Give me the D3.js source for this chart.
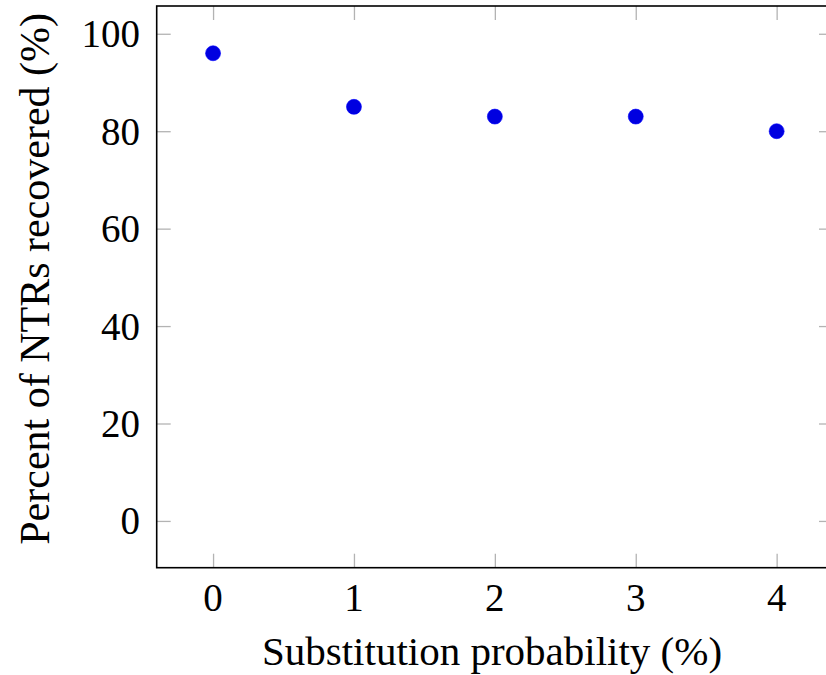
<!DOCTYPE html>
<html>
<head>
<meta charset="utf-8">
<script src="https://cdn.jsdelivr.net/npm/d3@7"></script>
<style>
  body { margin: 0; background: #fff; }
  svg { display: block; }
</style>
</head>
<body>
<svg id="chart" width="826" height="675"></svg>
<script>
const xValues = [0, 1, 2, 3, 4];
const yValues = [96, 85, 83, 83, 80];
const xTicks = [0, 1, 2, 3, 4];
const yTicks = [0, 20, 40, 60, 80, 100];
const xLabel = "Substitution probability (%)";
const yLabel = "Percent of NTRs recovered (%)";

(function () {
const FONT = "Liberation Serif";
const svg = d3.select("#chart");
const pLeft = 156.7, pRight = 833, pTop = 6, pBottom = 567.7;

const x = d3.scaleLinear().domain([-0.4, 4.4]).range([pLeft, pRight]);
const y = d3.scaleLinear().domain([-9.6, 105.7]).range([pBottom, pTop]);

const tickLen = 14;
const tickColor = "#b3b3b3";

const gB = svg.append("g").attr("transform", `translate(0,${pBottom})`)
  .call(d3.axisTop(x).tickValues(xTicks).tickSize(tickLen).tickFormat(""));
const gT = svg.append("g").attr("transform", `translate(0,${pTop})`)
  .call(d3.axisBottom(x).tickValues(xTicks).tickSize(tickLen).tickFormat(""));
const gL = svg.append("g").attr("transform", `translate(${pLeft},0)`)
  .call(d3.axisRight(y).tickValues(yTicks).tickSize(tickLen).tickFormat(""));
const gR = svg.append("g").attr("transform", `translate(${pRight},0)`)
  .call(d3.axisLeft(y).tickValues(yTicks).tickSize(tickLen).tickFormat(""));
[gB, gT, gL, gR].forEach(g => {
  g.select(".domain").remove();
  g.selectAll(".tick line").attr("stroke", tickColor).attr("stroke-width", 1.3);
});

svg.append("rect")
  .attr("x", pLeft).attr("y", pTop)
  .attr("width", pRight - pLeft).attr("height", pBottom - pTop)
  .attr("fill", "none").attr("stroke", "#000").attr("stroke-width", 1.6);

svg.append("g").selectAll("text").data(xTicks).join("text")
  .attr("x", d => x(d)).attr("y", 611)
  .attr("text-anchor", "middle")
  .attr("font-family", FONT)
  .attr("font-size", 39)
  .text(d => d);

svg.append("g").selectAll("text").data(yTicks).join("text")
  .attr("x", 140).attr("y", d => y(d) + 13.5)
  .attr("text-anchor", "end")
  .attr("font-family", FONT)
  .attr("font-size", 39)
  .text(d => d);

svg.append("text")
  .attr("x", 492).attr("y", 665)
  .attr("text-anchor", "middle")
  .attr("font-family", FONT)
  .attr("font-size", 41)
  .text(xLabel);

svg.append("text")
  .attr("transform", `translate(49,${(pTop + pBottom) / 2 - 8}) rotate(-90)`)
  .attr("text-anchor", "middle")
  .attr("font-family", FONT)
  .attr("font-size", 42)
  .text(yLabel);

svg.append("g").selectAll("circle").data(xValues.map((v, i) => [v, yValues[i]])).join("circle")
  .attr("cx", d => x(d[0])).attr("cy", d => y(d[1]))
  .attr("r", 7.5)
  .attr("fill", "#0000e0")
  .attr("stroke", "#0000ff").attr("stroke-width", 0.6);
})();
</script>
</body>
</html>
